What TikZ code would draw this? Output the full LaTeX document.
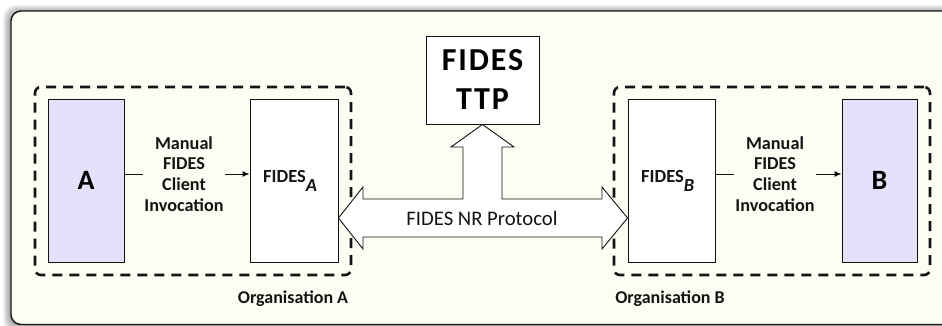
\documentclass[tikz,border=0pt]{standalone}
\usepackage{fontspec}
\setmainfont{Carlito}
\usetikzlibrary{arrows.meta}
\definecolor{paper}{RGB}{253,253,244}
\definecolor{lav}{RGB}{229,225,251}
\definecolor{ink}{RGB}{20,20,20}

\begin{document}
\begin{tikzpicture}[x=1pt,y=-1pt,
  procbox/.style={draw=ink, line width=0.9pt, inner sep=0pt, fill=white},
  orgbox/.style={draw=ink, line width=2.6pt, dash pattern=on 10pt off 7pt,
                 rounded corners=6pt, inner sep=0pt},
  lbl/.style={font=\fontsize{18.2}{20.7}\selectfont\bfseries, align=center,
              inner sep=1.5pt, text=ink},
  orglbl/.style={font=\fontsize{18}{20}\selectfont\bfseries, text=ink},
  link/.style={draw=ink, line width=0.9pt},
  flow/.style={link, -{Latex[length=7pt,width=6pt]}},
]
% page and panel
\fill[white] (0,0) rectangle (942,325);
\useasboundingbox (0,0) rectangle (942,325);
\foreach \i in {1,...,7}
  \fill[black, opacity=0.05, rounded corners=12pt]
    ({11-\i-1},{11-\i+1}) rectangle (960,{324.5+\i+1});
\draw[fill=paper, draw=ink, line width=1.4pt, rounded corners=10pt]
  (11,11) rectangle (960,324.5);

% organisation frames
\node[orgbox, minimum width=316pt, minimum height=188pt] (orgA) at (193,181) {};
\node[orgbox, minimum width=316pt, minimum height=188pt] (orgB) at (772,181) {};
\node[orglbl] (orgAl) at (293,299) {Organisation A};
\node[orglbl] (orgBl) at (670,299) {Organisation B};

% parties and FIDES components
\node[procbox, fill=lav, minimum width=76pt, minimum height=163pt,
      font=\fontsize{28}{30}\selectfont\bfseries] (a) at (86,180.5) {A};
\node[procbox, fill=lav, minimum width=75pt, minimum height=163pt,
      font=\fontsize{28}{30}\selectfont\bfseries] (b) at (879.5,180.5) {B};
\node[procbox, minimum width=88pt, minimum height=163pt] (fa) at (294,180.5) {};
\node[procbox, minimum width=87pt, minimum height=163pt] (fb) at (671.5,180.5) {};
\node[anchor=base west, inner sep=0pt, text=ink,
      font=\fontsize{18.5}{20}\selectfont\bfseries] (faL) at (263,182)
  {FIDES\raisebox{-9pt}{\itshape A}};
\node[anchor=base west, inner sep=0pt, text=ink,
      font=\fontsize{18.5}{20}\selectfont\bfseries] (fbL) at (641,182)
  {FIDES\raisebox{-9pt}{\itshape B}};

% trusted third party
\node[procbox, minimum width=113pt, minimum height=88pt, align=center,
      font=\fontsize{32}{39}\selectfont\bfseries\addfontfeature{LetterSpace=6}]
  (ttp) at (482.5,80) {FIDES\\TTP};

% manual invocations
\node[lbl] (ma) at (184,174) {Manual\\FIDES\\Client\\Invocation};
\node[lbl] (mb) at (775,174) {Manual\\FIDES\\Client\\Invocation};
\draw[link] (a.east |- ma.west) -- (ma.west);
\draw[flow] (ma.east) -- (ma.east -| fa.west);
\draw[link] (fb.east |- mb.west) -- (mb.west);
\draw[flow] (mb.east) -- (mb.east -| b.west);

% NR protocol arrow with branch to the TTP
\draw[draw=ink, line width=0.9pt, fill=white, line join=miter]
  (fa.east |- 0,218) -- (363,187) -- (363,199) -- (463,199) -- (463,147)
  -- (451,147) -- (ttp.south) -- (514,147) -- (502,147) -- (502,199)
  -- (602,199) -- (602,187) -- (fb.west |- 0,218) -- (602,249) -- (602,237)
  -- (363,237) -- (363,249) -- cycle;
\node[text=ink, font=\fontsize{20.7}{22}\selectfont] (nr) at (482,218) {FIDES NR Protocol};
\end{tikzpicture}
\end{document}
